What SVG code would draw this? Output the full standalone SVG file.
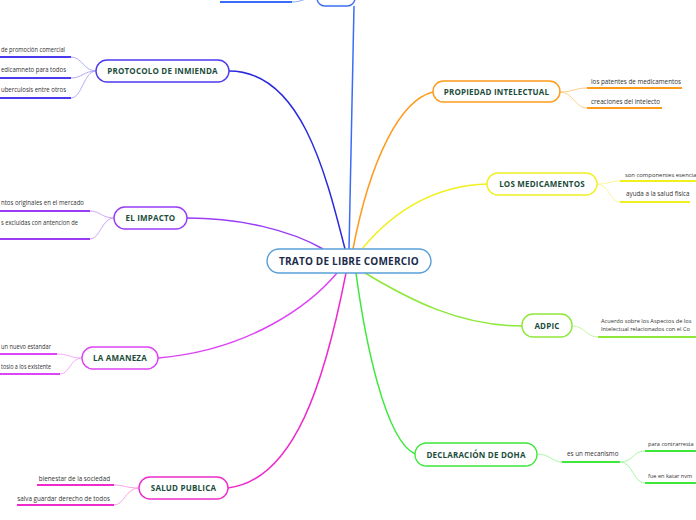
<svg xmlns="http://www.w3.org/2000/svg" width="696" height="520" viewBox="0 0 696 520">
<style>
.node{fill:#fff;stroke-width:1.4}
.t{font-family:"Open Sans","Noto Sans",sans-serif;font-weight:bold;font-size:8px;fill:#1c4d3c;text-anchor:middle;letter-spacing:0.2px}
.c{font-family:"Open Sans","Noto Sans",sans-serif;font-size:6.3px;fill:#333}
.e{text-anchor:end}
.u{stroke-width:2;fill:none}
.sc{stroke-width:0.9;fill:none}
.mc{stroke-width:1.5;fill:none}
</style>
<rect width="696" height="520" fill="#fff"/>
<g id="connectors">
<path class="mc" stroke="#3b6cf6" d="M349,249 C351,150 353,60 354,6"/>
<path class="mc" stroke="#2b2bdd" d="M229,71 C300,71 325,170 345,249"/>
<path class="mc" stroke="#9a3cf5" d="M187,218 C240,218 290,230 323,249"/>
<path class="mc" stroke="#dd44f5" d="M158,358 C250,350 310,305 337,273"/>
<path class="mc" stroke="#ee2ccc" d="M228,488 C295,480 325,380 346,273"/>
<path class="mc" stroke="#ff9a1a" d="M433,92 C400,100 370,160 353,249"/>
<path class="mc" stroke="#f0f020" d="M487,184 C430,186 390,215 362,249"/>
<path class="mc" stroke="#8de83a" d="M522,326 C460,326 410,300 365,273"/>
<path class="mc" stroke="#3de83a" d="M415,454 C385,440 365,340 356,273"/>
<path class="sc" stroke="#7f9ff8" d="M317,-4 C305,-2 302,2 292,2"/>
<path class="sc" stroke="#a9a1f6" d="M96,71 C84,71 82,57 71,57 M96,71 C84,71 82,78 71,78 M96,71 C84,71 82,98 71,98"/>
<path class="sc" stroke="#c79cf8" d="M114,218 C102,218 100,211 90,211 M114,218 C102,218 100,239 90,239"/>
<path class="sc" stroke="#eea5f8" d="M82,358 C70,358 68,354 57,354 M82,358 C70,358 70,374 60,374"/>
<path class="sc" stroke="#f59ae0" d="M139,488 C126,488 124,485 114,485 M139,488 C126,488 124,505 114,505"/>
<path class="sc" stroke="#ffc77f" d="M560,92 C573,92 575,88 587,88 M560,92 C573,92 575,108 587,108"/>
<path class="sc" stroke="#f5f590" d="M597,184 C609,184 610,181 620,181 M597,184 C609,184 610,202 620,202"/>
<path class="sc" stroke="#bff59a" d="M572,326 C585,326 586,337 598,337"/>
<path class="sc" stroke="#9cf59a" d="M537,454 C550,454 552,462 562,462 M620,462 C633,462 633,451 645,451 M620,462 C633,462 633,483 645,483"/>
<path class="u" stroke="#3b6cf6" d="M220,2 H292"/>
<path class="u" stroke="#4b3bf0" d="M0,57 H71 M0,78 H71 M0,98 H71"/>
<path class="u" stroke="#9a3cf5" d="M0,211 H90 M0,239 H90"/>
<path class="u" stroke="#dd44f5" d="M0,354 H57 M0,374 H60"/>
<path class="u" stroke="#ee2ccc" d="M37,485 H114 M17,505 H114"/>
<path class="u" stroke="#ff9a1a" d="M587,88 H682 M587,108 H662"/>
<path class="u" stroke="#f0f020" d="M620,181 H696 M620,202 H690"/>
<path class="u" stroke="#8de83a" d="M598,337 H696"/>
<path class="u" stroke="#3de83a" d="M562,462 H620 M645,451 H696 M645,483 H696"/>
</g>
<g id="top">
<rect class="node" x="317" y="-16" width="38" height="22" rx="8" stroke="#3b6cf6"/>
</g>
<g id="central">
<rect x="267" y="249" width="164" height="24" rx="12" fill="#fff" stroke="#5aa0d8" stroke-width="1.4"/>
<text class="t" x="349" y="264.5" style="font-size:10px;fill:#1b2b4b;letter-spacing:0.2px">TRATO DE LIBRE COMERCIO</text>
</g>
<g id="protocolo">
<rect class="node" x="96" y="60" width="133" height="22" rx="11" stroke="#4b3bf0"/>
<text class="t" x="162.5" y="74">PROTOCOLO DE INMIENDA</text>
<text class="c" x="1" y="52" textLength="64" lengthAdjust="spacingAndGlyphs">de promoción comercial</text>
<text class="c" x="1" y="72" textLength="65" lengthAdjust="spacingAndGlyphs">edicamneto  para todos</text>
<text class="c" x="1" y="92" textLength="65" lengthAdjust="spacingAndGlyphs">uberculosis  entre otros</text>
</g>
<g id="impacto">
<rect class="node" x="114" y="207" width="73" height="22" rx="11" stroke="#9a3cf5"/>
<text class="t" x="150.5" y="221">EL IMPACTO</text>
<text class="c" x="1" y="205" textLength="83" lengthAdjust="spacingAndGlyphs">ntos originales en el mercado</text>
<text class="c" x="1" y="225" textLength="77" lengthAdjust="spacingAndGlyphs">s excluidas con antencion de</text>
</g>
<g id="amaneza">
<rect class="node" x="82" y="347" width="76" height="22" rx="11" stroke="#dd44f5"/>
<text class="t" x="120" y="361">LA AMANEZA</text>
<text class="c" x="1" y="349" textLength="50" lengthAdjust="spacingAndGlyphs">un nuevo estandar</text>
<text class="c" x="1" y="369" textLength="50" lengthAdjust="spacingAndGlyphs">tosio a los existente</text>
</g>
<g id="salud">
<rect class="node" x="139" y="477" width="89" height="22" rx="11" stroke="#ee2ccc"/>
<text class="t" x="183.5" y="491">SALUD PUBLICA</text>
<text class="c e" x="110" y="481">bienestar de la sociedad</text>
<text class="c e" x="110" y="501">salva guardar derecho de todos</text>
</g>
<g id="propiedad">
<rect class="node" x="433" y="81" width="127" height="21" rx="10.5" stroke="#ff9a1a"/>
<text class="t" x="496.5" y="94.5">PROPIEDAD INTELECTUAL</text>
<text class="c" x="591" y="84">los patentes de medicamentos</text>
<text class="c" x="591" y="104">creaciones del intelecto</text>
</g>
<g id="medicamentos">
<rect class="node" x="487" y="173" width="110" height="22" rx="11" stroke="#f0f020"/>
<text class="t" x="542" y="187">LOS MEDICAMENTOS</text>
<text class="c" x="625" y="177" style="font-size:5.9px">son componentes esencia</text>
<text class="c" x="626" y="196">ayuda a la salud fisica</text>
</g>
<g id="adpic">
<rect class="node" x="522" y="314" width="50" height="23" rx="11" stroke="#8de83a"/>
<text class="t" x="547" y="328.5">ADPIC</text>
<text class="c" x="601" y="323" style="font-size:5.7px">Acuerdo sobre los Aspectos de los</text>
<text class="c" x="601" y="331" style="font-size:5.7px">Intelectual relacionados con el Co</text>
</g>
<g id="doha">
<rect class="node" x="415" y="443" width="122" height="23" rx="11.5" stroke="#3de83a"/>
<text class="t" x="476" y="457.5">DECLARACIÓN DE DOHA</text>
<text class="c" x="567" y="456">es un mecanismo</text>
<text class="c" x="648" y="446" style="font-size:5.6px">para contrarresta</text>
<text class="c" x="648" y="478" style="font-size:5.6px">fue en katar nvm</text>
</g>
</svg>
